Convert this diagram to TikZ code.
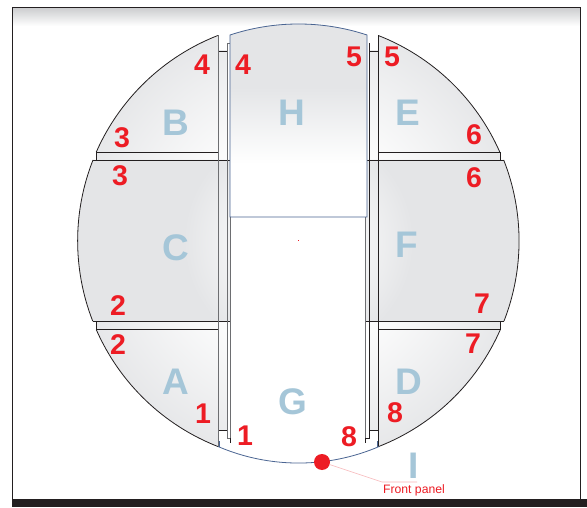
\documentclass[tikz,border=0pt]{standalone}
\usepackage{fontspec}
\setmainfont{Liberation Sans}
\definecolor{pgray}{HTML}{E4E5E7}
\definecolor{ink}{HTML}{231F20}
\definecolor{midline}{HTML}{6D6E71}
\definecolor{hblue}{HTML}{4A6592}
\definecolor{letterblue}{HTML}{A5C6D8}
\definecolor{numred}{HTML}{ED1C24}
\definecolor{leaderpink}{HTML}{F7B5B8}
\definecolor{topgray}{HTML}{CDCED0}
\pgfdeclareradialshading{glowout}{\pgfpoint{0bp}{0bp}}{color(0bp)=(white); color(11bp)=(white!97!pgray); color(25bp)=(white!10!pgray); color(50bp)=(white!10!pgray)}
\pgfdeclareradialshading{glowmid}{\pgfpoint{0bp}{0bp}}{color(0bp)=(white); color(8bp)=(white!50!pgray); color(13bp)=(pgray); color(50bp)=(pgray)}
\pgfdeclareverticalshading{hpanelshade}{100bp}{color(0bp)=(white); color(38.5bp)=(white); color(58bp)=(pgray); color(100bp)=(pgray)}
\newcommand{\glowpanel}[2]{%
  \begin{scope}\clip #2; \shade[shading=#1] (298.5,266) circle[radius=221pt]; \end{scope}}
\tikzset{
  numlabel/.style={text=numred,font=\fontsize{28.5}{28.5}\selectfont\bfseries,inner sep=0pt},
  panelname/.style={text=letterblue,font=\fontsize{37}{37}\selectfont\bfseries,inner sep=0pt},
  edgedark/.style={draw=ink,line width=0.8pt},
  edgemid/.style={draw=midline,line width=0.9pt},
  edgeblue/.style={draw=hblue,line width=0.8pt}
}
\begin{document}
\begin{tikzpicture}[x=1pt,y=1pt]
\useasboundingbox (0,0) rectangle (587,507);
\fill[white] (0,0) rectangle (587,507);
% frame
\shade[top color=topgray,bottom color=white] (13,481) rectangle (580,499);
\fill[ink] (12,0) rectangle (587,8);
\draw[ink,line width=1pt] (12.5,8) -- (12.5,499.5) -- (580,499.5) -- (580,8);
% strips behind the panels
\glowpanel{glowout}{(218,77) rectangle (227.5,456)}
\glowpanel{glowout}{(369.5,77) rectangle (378.3,456)}
\glowpanel{glowout}{(96.3,347) rectangle (218,355)}
\glowpanel{glowout}{(378.3,347) rectangle (500.3,355)}
\glowpanel{glowout}{(96.3,177.3) rectangle (218,186)}
\glowpanel{glowout}{(378.3,177.3) rectangle (500.3,186)}
% panel B
\glowpanel{glowout}{(96.3,355) arc[start angle=156.2,end angle=111.4,radius=220.8pt] -- (218,355) -- cycle}
\draw[edgedark] (96.3,355) arc[start angle=156.2,end angle=111.4,radius=220.8pt];
% panel E
\glowpanel{glowout}{(378.3,471.5) arc[start angle=68.6,end angle=23.8,radius=220.8pt] -- (378.3,355) -- cycle}
\draw[edgedark] (378.3,471.5) arc[start angle=68.6,end angle=23.8,radius=220.8pt];
% panel A
\glowpanel{glowout}{(96.3,177.3) arc[start angle=203.7,end angle=248.6,radius=220.8pt] -- (218,177.3) -- cycle}
\draw[edgedark] (96.3,177.3) arc[start angle=203.7,end angle=248.6,radius=220.8pt];
% panel D
\glowpanel{glowout}{(500.3,177.3) arc[start angle=-23.7,end angle=-68.6,radius=220.8pt] -- (378.3,177.3) -- cycle}
\draw[edgedark] (500.3,177.3) arc[start angle=-23.7,end angle=-68.6,radius=220.8pt];
% panel C
\glowpanel{glowmid}{(93,347) arc[start angle=158.5,end angle=201.3,radius=220.8pt] -- (230.5,186) -- (230.5,347) -- cycle}
\draw[edgedark] (93,347) arc[start angle=158.5,end angle=201.3,radius=220.8pt];
% panel F
\glowpanel{glowmid}{(503.7,347) arc[start angle=21.5,end angle=-21.3,radius=220.8pt] -- (365.5,186) -- (365.5,347) -- cycle}
\draw[edgedark] (503.7,347) arc[start angle=21.5,end angle=-21.3,radius=220.8pt];
% separators, left
\draw[edgedark] (96.3,347) -- (96.3,355) -- (218,355);
\draw[edgedark] (93,347) -- (230.5,347);
\draw[edgedark] (93,186) -- (230.5,186);
\draw[edgedark] (96.3,186) -- (96.3,177.3) -- (218,177.3);
\draw[edgedark] (218,456) -- (227.5,456);
\draw[edgedark] (218,77) -- (227.5,77);
\draw[edgemid] (218,471.5) -- (218,60.5);
\draw[edgemid] (227.5,456) -- (227.5,463.5) -- (230,463.5);
\draw[edgemid] (227.5,463.5) -- (227.5,69) -- (230.5,69);
\draw[edgemid] (230.5,290) -- (230.5,69);
\draw[ink,line width=0.9pt] (230.5,69) -- (230.5,64);
% separators, right
\draw[edgedark] (500.3,347) -- (500.3,355) -- (378.3,355);
\draw[edgedark] (503.7,347) -- (365.5,347);
\draw[edgedark] (503.7,186) -- (365.5,186);
\draw[edgedark] (500.3,186) -- (500.3,177.3) -- (378.3,177.3);
\draw[edgedark] (378.3,456) -- (369.5,456);
\draw[edgedark] (378.3,77) -- (369.5,77);
\draw[edgedark] (378.3,471.5) -- (378.3,60.5);
\draw[edgedark] (369.5,463.5) -- (369.5,69) -- (365.5,69);
\draw[edgemid] (365.5,290) -- (365.5,69);
\draw[ink,line width=0.9pt] (365.5,69) -- (365.5,64);
% panel H
\shade[shading=hpanelshade] (230,472) arc[start angle=108.25,end angle=71.75,radius=218.8pt] -- (367,290) -- (230,290) -- cycle;
\draw[edgeblue] (230,472) arc[start angle=108.25,end angle=71.75,radius=218.8pt] -- (367,290) -- (230,290) -- cycle;
% panel G edge
\draw[edgeblue] (218,60.5) arc[start angle=246.8,end angle=293.2,radius=204.6pt];
\draw[edgeblue] (219,60.5) -- (219,66);
\draw[edgeblue] (377.5,60.5) -- (377.5,66);
% centre mark
\fill[numred] (297.7,265.6) rectangle (299,266.6);
% leader and front panel dot
\coordinate (elbow) at (382,25);
\coordinate (leaderend) at (417,25);
\node[circle,fill=numred,minimum size=16pt,inner sep=0pt] (frontdot) at (322,45) {};
\draw[leaderpink,line width=0.6pt] (frontdot) -- (elbow) -- (leaderend);
\node[text=numred,font=\fontsize{12.2}{13}\selectfont,inner sep=0pt] (frontlabel) at (414,17) {Front panel};
% panel names
\node[panelname] (nameA) at (176,125) {A};
\node[panelname] (nameB) at (176,384) {B};
\node[panelname] (nameC) at (176,259) {C};
\node[panelname] (nameD) at (409,125) {D};
\node[panelname] (nameE) at (408,394) {E};
\node[panelname] (nameF) at (407,262) {F};
\node[panelname] (nameG) at (293,105) {G};
\node[panelname] (nameH) at (292,394) {H};
\node[panelname] (nameI) at (413.5,41) {I};
% numbers
\node[numlabel] (nFourL) at (202,442) {4};
\node[numlabel] (nFourH) at (243,442) {4};
\node[numlabel] (nThreeU) at (122,369) {3};
\node[numlabel] (nThreeL) at (120,331) {3};
\node[numlabel] (nTwoU) at (118,201) {2};
\node[numlabel] (nTwoL) at (118,162) {2};
\node[numlabel] (nOneL) at (203,93) {1};
\node[numlabel] (nOneG) at (245,71) {1};
\node[numlabel] (nFiveH) at (354,450) {5};
\node[numlabel] (nFiveE) at (392,450) {5};
\node[numlabel] (nSixU) at (474,372) {6};
\node[numlabel] (nSixL) at (474,329) {6};
\node[numlabel] (nSevenU) at (482,203) {7};
\node[numlabel] (nSevenL) at (473,163) {7};
\node[numlabel] (nEightD) at (395,94) {8};
\node[numlabel] (nEightG) at (349,70) {8};
\end{tikzpicture}
\end{document}
